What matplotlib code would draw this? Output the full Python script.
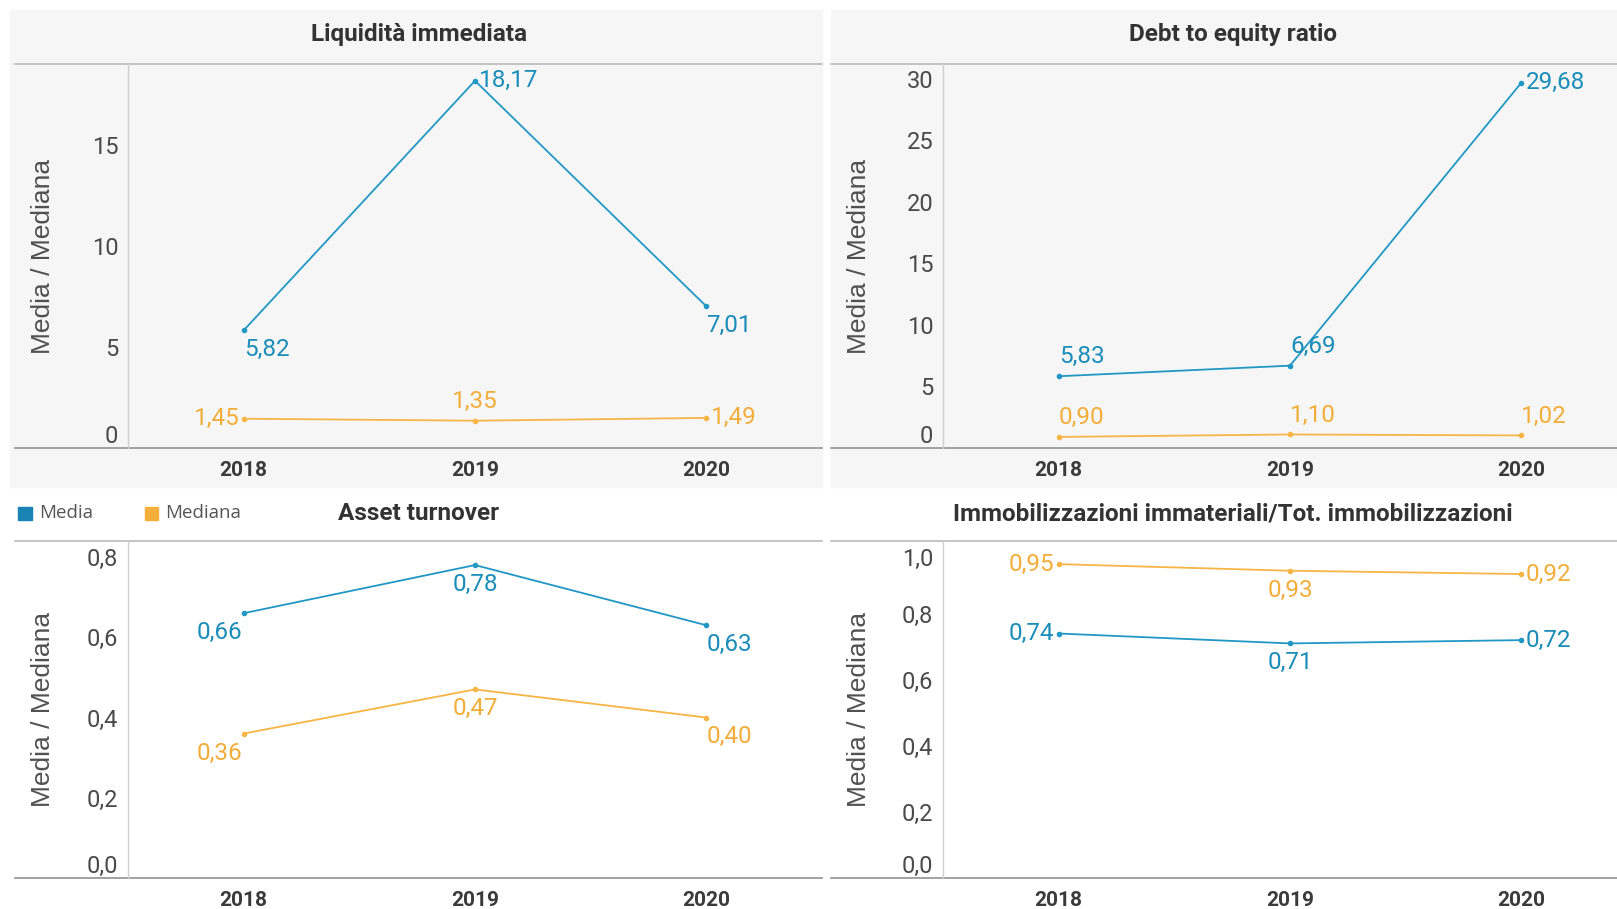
import matplotlib
matplotlib.use("Agg")
import matplotlib.pyplot as plt
from matplotlib.patches import Rectangle
from matplotlib.lines import Line2D

# dati
anni = ["2018", "2019", "2020"]

liquidita_media = [5.82, 18.17, 7.01]
liquidita_mediana = [1.45, 1.35, 1.49]

debt_media = [5.83, 6.69, 29.68]
debt_mediana = [0.90, 1.10, 1.02]

asset_media = [0.66, 0.78, 0.63]
asset_mediana = [0.36, 0.47, 0.40]

immob_media = [0.74, 0.71, 0.72]
immob_mediana = [0.95, 0.93, 0.92]

titoli = ["Liquidità immediata", "Debt to equity ratio", "Asset turnover",
          "Immobilizzazioni immateriali/Tot. immobilizzazioni"]

BLU = "#2197c4"
BLU_TXT = "#1a8db9"
ARANCIO = "#f6b545"
ARANCIO_TXT = "#f2ad3a"
GRIGIO_BG = "#f6f6f6"

W, H = 1617, 909
fig = plt.figure(figsize=(W / 100, H / 100), dpi=100)
fig.patch.set_facecolor("white")


def fx(x):
    return x / W


def fy(y):
    return 1 - y / H


def linea(x0, x1, y0, y1, col, lw=1.1):
    fig.add_artist(Line2D([fx(x0), fx(x1)], [fy(y0), fy(y1)], color=col, lw=lw,
                          transform=fig.transFigure))


# sfondo pannelli in alto
fig.add_artist(Rectangle((fx(10), fy(487)), fx(812), 477 / H, color=GRIGIO_BG,
                         transform=fig.transFigure, zorder=0))
fig.add_artist(Rectangle((fx(831), fy(487)), fx(800), 477 / H, color=GRIGIO_BG,
                         transform=fig.transFigure, zorder=0))

# posizioni pannelli: (x asse, x inizio pannello, x fine pannello, y alto, y basso, x titolo, y titolo)
pannelli = [
    (128, 15, 822, 64, 448, 419, 35),
    (943, 831, 1617, 64, 448, 1233, 35),
    (128, 15, 822, 541, 878, 419, 514),
    (943, 831, 1617, 541, 878, 1233, 514),
]

serie = [
    (liquidita_media, liquidita_mediana),
    (debt_media, debt_mediana),
    (asset_media, asset_mediana),
    (immob_media, immob_mediana),
]

limiti = [19, 31.2, 0.84, 1.02]
yticks = [[0, 5, 10, 15], [0, 5, 10, 15, 20, 25, 30],
          [0, 0.2, 0.4, 0.6, 0.8], [0, 0.2, 0.4, 0.6, 0.8, 1.0]]
decimali = [False, False, True, True]

# posizione etichette dati
pos_media = [["br", "r", "br"], ["ar", "ar", "r"], ["bl", "b", "br"], ["l", "b", "r"]]
pos_mediana = [["l", "a", "r"], ["ar", "ar", "ar"], ["bl", "b", "br"], ["l", "b", "r"]]

offset = {
    "r": ((3, 0), "left"),
    "l": ((-3, 0), "right"),
    "a": ((0, 14), "center"),
    "b": ((0, -14), "center"),
    "ar": ((0, 14), "left"),
    "br": ((0, -14), "left"),
    "bl": ((-1, -14), "right"),
}


def fmt(v):
    return f"{v:.2f}".replace(".", ",")


for i, (xa, xp0, xp1, yt, yb, xt, ytit) in enumerate(pannelli):
    ax = fig.add_axes([fx(xa), fy(yb), 694 / W, (yb - yt) / H])
    ax.set_facecolor("none")
    for s in ax.spines.values():
        s.set_visible(False)
    media, mediana = serie[i]
    x = range(len(anni))
    ax.plot(x, media, color=BLU, lw=1.3, marker="o", ms=3, zorder=3)
    ax.plot(x, mediana, color=ARANCIO, lw=1.3, marker="o", ms=3, zorder=3)
    ax.set_xlim(-0.5, 2.5)
    ax.set_ylim(0, limiti[i])
    ax.set_xticks(list(x))
    ax.set_xticklabels(anni, fontfamily="Roboto", fontweight="bold", fontsize=15,
                       color="#3a3a3a")
    ax.set_yticks(yticks[i])
    if decimali[i]:
        lab = [f"{t:.1f}".replace(".", ",") for t in yticks[i]]
    else:
        lab = [str(t) for t in yticks[i]]
    ax.set_yticklabels(lab, fontfamily="Roboto", fontsize=17, color="#4a4a4a")
    ax.tick_params(axis="both", length=0)
    ax.tick_params(axis="y", pad=7)
    ax.tick_params(axis="x", pad=9)
    tl = ax.get_yticklabels()
    tl[0].set_va("bottom")
    if i == 3:
        tl[-1].set_va("top")
    ax.set_ylabel("Media / Mediana", fontfamily="Liberation Sans", fontsize=19,
                  color="#505050")
    ax.yaxis.set_label_coords((xp0 + 40 - xa) / 694, 0.5)

    for vals, pos, col in ((media, pos_media[i], BLU_TXT), (mediana, pos_mediana[i], ARANCIO_TXT)):
        for j, v in enumerate(vals):
            (dx, dy), ha = offset[pos[j]]
            ax.annotate(fmt(v), (j, v), xytext=(dx, dy), textcoords="offset points",
                        ha=ha, va="center", fontfamily="Roboto", fontsize=17.5,
                        color=col, zorder=4)

    # linee degli assi
    linea(xp0, xp1, yt, yt, "#b4b4b4")
    linea(xp0, xp1, yb, yb, "#9a9a9a", 1.3)
    linea(xa, xa, yt, yb, "#cfcfcf", 1.0)

    fig.text(fx(xt), fy(ytit), titoli[i], ha="center", va="center", fontfamily="Roboto",
             fontweight="bold", fontsize=17.5, color="#333333")

# legenda
fig.add_artist(Rectangle((fx(18), fy(520)), 14 / W, 13 / H, color="#1a83b6",
                         transform=fig.transFigure))
fig.text(fx(39), fy(513), "Media", ha="left", va="center", fontfamily="Open Sans",
         fontsize=13.5, color="#555555")
fig.add_artist(Rectangle((fx(145), fy(520)), 13 / W, 13 / H, color="#f8ae3a",
                         transform=fig.transFigure))
fig.text(fx(165), fy(513), "Mediana", ha="left", va="center", fontfamily="Open Sans",
         fontsize=13.5, color="#555555")

fig.savefig("out.png", dpi=100)
